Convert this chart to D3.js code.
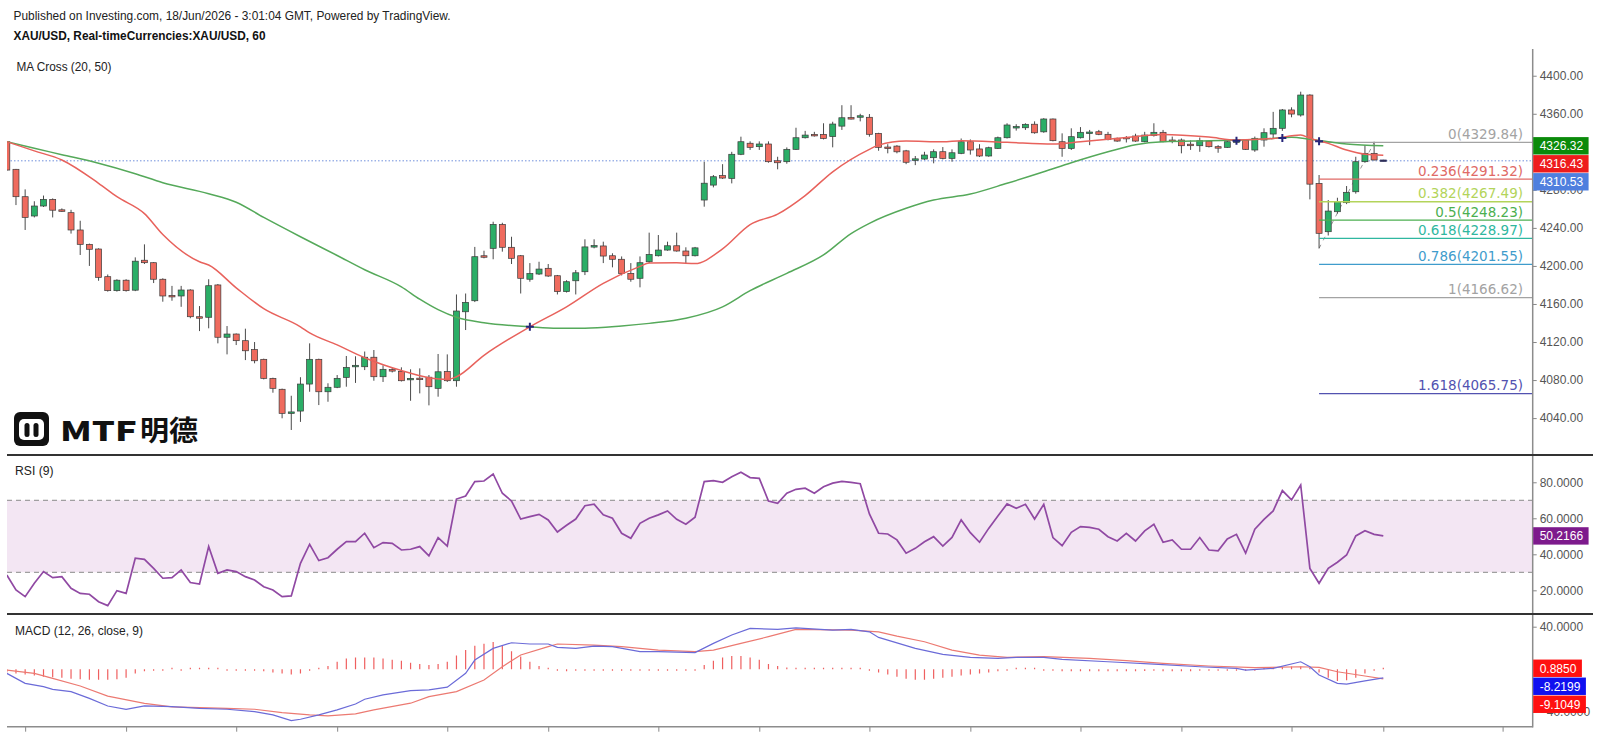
<!DOCTYPE html>
<html lang="en">
<head>
<meta charset="UTF-8">
<title>XAU/USD, 60</title>
<script src="https://d3js.org/d3.v7.min.js"></script>
<style>
  body { margin: 0; background: #fff; }
  svg { display: block; font-family: "Liberation Sans", Arial, sans-serif; }
  .axis text { font-size: 12px; fill: #555; font-family: "Liberation Sans", Arial, sans-serif; }
  .axis line { stroke: #888; }
  .axis path { display: none; }
</style>
</head>
<body>
<svg width="1600" height="734"></svg>
<script>
// candles, hourly
const open = [4330.6,4301.6,4272.8,4252.5,4263,4270,4259,4256,4237.8,4222.7,
  4217.8,4188.7,4174,4185,4174.5,4206,4203.4,4186,4169,4168.4,
  4174.7,4146.6,4146,4180,4125,4128.4,4121.4,4112,4101.8,4081.8,
  4070.3,4046,4047.4,4075.8,4101.8,4067.7,4072.4,4082.8,4095,4094,
  4104,4083.5,4091,4089,4081.8,4082,4083,4071.3,4089,4079.3,
  4151.8,4163.4,4210.7,4218.5,4243.7,4219.6,4210.7,4186,4191.5,4197.5,
  4189.7,4173,4184.4,4193.9,4221,4221,4210.7,4207,4192.2,4187,
  4204.4,4210.7,4216.7,4221.2,4215.7,4210.7,4269.3,4285,4295,4292,
  4317.4,4329,4325.4,4328.2,4310.6,4309.6,4322.6,4334.8,4338.3,4338.3,
  4336,4347,4356,4357.6,4356.3,4339.4,4325,4326,4321,4312.4,
  4312.4,4313.8,4320.1,4313.1,4318.4,4330.6,4323,4315.6,4323.6,4334.8,
  4346.4,4345.3,4349,4341,4354.5,4330.6,4323.6,4334.8,4340.5,4341.1,
  4338.4,4334.2,4335.2,4336.6,4330.6,4337,4340.5,4332.4,4332.4,4328,
  4326.4,4331.3,4325.4,4324.7,4331,4332.4,4321.9,4332.4,4338.7,4344.7,
  4364,4358.7,4379.7,4286.8,4236,4257,4266.5,4278,4309.6,4318.4,
  4311.4];
const high = [4331,4302,4280.5,4268,4274,4271,4260.5,4259,4247.5,4223.5,
  4218.5,4191,4186,4186,4209,4222.7,4204,4187,4179,4179,
  4175.5,4157.8,4186,4181,4136.8,4129,4134,4120,4102.5,4082.5,
  4071,4063.5,4083,4118.6,4102.5,4076.6,4085.3,4105.3,4105,4110,
  4111.6,4095.5,4093,4093.4,4091.3,4092.3,4085.3,4107.4,4107,4170,
  4171,4220,4216,4246.5,4245.4,4230.7,4211.5,4203,4204.4,4202,
  4190.5,4185,4195.7,4228,4228,4225.5,4213.3,4210,4203,4210,
  4235,4232.5,4225.5,4235,4219.6,4220,4309.6,4295.6,4307,4320,
  4335.9,4331,4331,4331,4314.8,4324.6,4345.3,4342,4341,4350,
  4351.6,4369,4369,4360,4359.7,4340,4328,4327,4322,4315.6,
  4320,4322.6,4325,4322.6,4334,4333,4328,4325.4,4336,4350,
  4349,4350,4352,4355.4,4355,4339.4,4344.7,4346,4343,4343,
  4341,4335,4336.6,4339,4341,4350,4343,4336,4334,4332,
  4335,4332,4327,4331.3,4333,4333,4336,4344.7,4362,4365,
  4366.8,4383.2,4380.5,4295.6,4269.3,4271.7,4284,4314.8,4327.1,4330.6,
  4311.6];
const low = [4300,4264,4237.8,4251,4262,4251,4257,4234,4211.5,4200,
  4184.4,4173,4173,4173,4173.5,4202,4182,4162.4,4163.4,4157,
  4145,4131.5,4134.4,4118.6,4107,4116.8,4101,4097.6,4080.7,4066.7,
  4039.8,4027.5,4036,4067.7,4053.7,4057.2,4071.5,4073,4077,4090.5,
  4079.3,4078,4088,4078.5,4058.2,4066,4053.4,4062.5,4078,4073,
  4132.6,4162,4208,4207,4215,4202,4171,4183.4,4190.5,4188.5,
  4170,4172,4170,4190.4,4218.5,4203,4198.5,4190,4183.4,4177.5,
  4203,4210,4216,4215,4202,4210,4262.3,4282.6,4291.5,4286.8,
  4316.5,4322,4322,4308.5,4301.6,4307.5,4322,4334,4336,4333,
  4324.7,4343,4354,4352,4335.9,4321.1,4318.4,4318.4,4307,4306,
  4311.5,4307.9,4312,4309.6,4317.5,4317,4314.5,4314.8,4323,4334,
  4342.3,4343,4339,4340,4331,4314.8,4321.9,4334,4327,4337.5,
  4332,4330.5,4329.8,4330.5,4330,4336,4330,4329,4318.4,4322,
  4320,4324.5,4319,4324,4329,4322,4320,4325.4,4334.2,4342,
  4356.3,4357,4270,4218.5,4232,4255,4265,4276,4308.5,4311,
  4310.3];
const close = [4300.8,4272.8,4251,4263,4270,4258.6,4258,4237.8,4222.7,4217.5,
  4188,4174,4185,4174,4205,4203.4,4186,4168.4,4168.4,4174.7,
  4146.6,4146,4179.2,4125,4128.4,4121.4,4110.8,4100.3,4081.8,4071.3,
  4045,4046.5,4075.8,4101.8,4067.7,4072.4,4081.8,4093.3,4095.5,4104,
  4083.5,4091.3,4090,4079.3,4081.8,4081.5,4073,4088.7,4079.3,4152.6,
  4161.7,4209.7,4210.2,4243.7,4219.6,4208,4187,4192,4196.7,4189.4,
  4173,4183.4,4192.8,4220,4221.4,4210.4,4207,4192.2,4186,4203.4,
  4212,4216.7,4221.2,4215.7,4210.7,4219,4287,4293.8,4292.4,4317.4,
  4330.6,4324.7,4328.2,4309.6,4308.5,4322.6,4334.8,4337.6,4338,4334,
  4349.2,4355.8,4355.5,4357.9,4338.4,4324.7,4324.5,4320,4309,4312.6,
  4316.6,4320.1,4313.1,4319,4330.6,4321.9,4315.6,4324.3,4334.8,4348.2,
  4346.6,4348.9,4340,4354.5,4331.7,4323.6,4335.9,4340.5,4340.8,4338.4,
  4333,4331.3,4335,4331.3,4337.6,4340.5,4330.6,4332.2,4326.4,4327.8,
  4331.7,4325.4,4325.2,4330.6,4331.5,4322.6,4334.2,4340.1,4344.7,4364,
  4359.7,4379.7,4286,4234.3,4257.7,4267.5,4277.4,4309.6,4318.4,4311.4,
  4310.53];

// moving averages [bar index, value]
const ma20 = [[0,4330.6],[3,4321],[6,4311.4],[10,4286.9],[12,4272.8],[15,4255],[17,4233],[21,4204.4],[22,4201],
  [25,4177],[28,4155],[32,4136],[33,4129.5],[36,4117],[39,4103.5],[43,4090],[46,4082.5],[48,4080.7],[49,4083.5],
  [52,4106],[57,4136],[61,4157],[65,4181.7],[69,4199.5],[70,4203],[73,4203.4],[75,4202.5],[78,4218],[81,4243.5],
  [84,4254.5],[87,4274],[90,4299],[94,4322.6],[95,4327],[98,4331.3],[102,4330.6],[104,4331.7],[109,4330],
  [114,4328.2],[117,4330.6],[122,4335],[126,4338.3],[131,4335.5],[134,4332.4],[138,4334],[141,4337.6],
  [142,4334.2],[144,4328.9],[146,4321.9],[148,4317.5],[150,4316.43]];
const ma50 = [[0,4330.6],[3,4323.7],[6,4317],[10,4308],[14,4297],[17,4287.5],[22,4276],[25,4267],[28,4251],
  [32,4230.7],[36,4211],[39,4196],[43,4178],[45,4165],[47,4154],[49,4146],[52,4140.3],[57,4136],[60,4134.4],
  [63,4134.4],[67,4136.8],[70,4139.6],[74,4145],[78,4157],[81,4174],[85,4192.2],[89,4211.5],[92,4234],
  [94,4244.8],[98,4260.6],[101,4269.3],[105,4275.6],[109,4286.9],[113,4299],[116,4308.5],[120,4320],
  [123,4327.5],[126,4330.6],[131,4331.7],[134,4332.4],[137,4333.4],[140,4335.2],[142,4333.1],[144,4330.6],
  [146,4328.2],[150,4326.32]];
const maCrosses = [[57,4136],[134,4331.7],[139,4334.4],[143,4331]];
const lastPrice = 4310.53;

// fibonacci retracement
const fibRatios = [0, 0.236, 0.382, 0.5, 0.618, 0.786, 1, 1.618];
const fibValues = [4329.84, 4291.32, 4267.49, 4248.23, 4228.97, 4201.55, 4166.62, 4065.75];
const fibStart = 143;
const fibTrend = [[143,4218.5],[149,4329.84]];

// RSI (9), one value per bar
const rsi = [28.5,20.2,16.5,23.9,30.4,27,27.6,21.1,18.3,17.8,
  13.7,11.5,19.8,18.3,37.8,37.2,32.2,26.7,27,31.3,
  24.3,23.5,44.3,29.4,31.3,30.4,27.6,25.7,22,20.2,
  16.5,16.9,35,45.6,36.5,38.1,42.8,47,47,51.7,
  43.7,46.5,46.1,42.4,42.8,44.3,39.1,49.3,44.6,70.7,
  72.4,80.4,80.7,84.6,73.9,69.6,59.6,60.9,62.2,59.1,
  52.4,56.1,59.6,67,67.8,61.9,60,51.7,48.9,57.2,
  60,61.9,64.1,59.4,56.7,60.6,80.4,80.9,80,83.1,
  85.6,82.6,82.2,69.6,68.3,73.9,76.1,76.7,73.9,77.5,
  79.5,80.5,80,79.2,62.4,51.7,51.3,48,40.6,43.3,
  47,49.8,44.6,49.4,59.1,52,46.7,54.4,61.3,68,
  65.6,67.8,59.6,67.8,49.3,44.8,52.2,55.4,55,53.9,
  49.8,47.4,51.7,47.4,53,56.7,46.7,48,42.8,42.8,
  49.3,42.4,41.9,48.5,51.1,40.6,53.9,59.4,64.1,75.4,
  70.2,78.5,32.2,23.9,32.2,35.6,39.6,50.2,53.1,51.1,
  50.2166];

// MACD (12, 26, close, 9)
const macdLine = [[0,-3.9],[2,-13.3],[4,-16.4],[5,-18.9],[7,-21.1],[9,-27.4],[11,-34.6],[13,-37.7],[15,-34.6],
  [18,-35.2],[21,-36.8],[24,-37.7],[27,-39.9],[29,-43],[31,-48.4],[32,-47.1],[34,-43],[36,-38.3],[38,-32.7],
  [39,-28.3],[41,-24.2],[44,-20.1],[46,-19.4],[48,-16.9],[50,-3.9],[51,8.6],[53,19.6],[55,24.9],[57,23.7],
  [59,23.7],[60,20.5],[62,19.6],[64,21.8],[66,21.2],[69,16.5],[71,16.5],[75,15.6],[77,24.3],[79,32.2],
  [81,38.4],[84,37.5],[86,38.8],[90,36.8],[92,37.5],[94,35.2],[95,29.9],[99,19.6],[102,13.9],[105,11.1],
  [108,10.2],[110,11.1],[113,11.1],[115,9.2],[120,7],[125,4.8],[130,2.3],[134,0.8],[135,-0.8],[138,0.8],
  [141,7],[142,2.3],[143,-5.5],[145,-13.3],[146,-14],[148,-10.9],[150,-8.2199]];
const signalLine = [[0,-0.8],[3,-3.9],[5,-8.6],[8,-15.8],[11,-25.3],[15,-32.2],[18,-35.4],[21,-36.2],[24,-36.8],
  [27,-37.7],[30,-40.8],[33,-43],[35,-44],[38,-42.1],[40,-38.3],[44,-32],[46,-25.8],[49,-21.1],[52,-10.1],
  [54,2.4],[56,13.4],[59,21.2],[60,23.7],[64,22.7],[67,21.2],[71,18],[75,16.5],[77,18],[80,24.3],[83,30.6],
  [86,37.5],[92,36.8],[95,35.2],[97,31.1],[100,25.8],[103,18],[106,13.3],[109,11.1],[113,11.8],[118,10.2],
  [122,8],[126,5.5],[131,3],[136,1.4],[141,2.3],[143,1.7],[145,-2.4],[148,-6.4],[150,-9.1049]];
const histogram = [-3,-4,-5,-6,-7,-7.5,-8,-9,-9.5,-10,
  -10,-10,-9.5,-8,-4,-2,-1,-0.5,0.3,0,
  0.2,0.3,0.5,0.2,-0.3,-0.5,-1,-1.5,-2,-3,
  -4,-5,-4,-1,1,3,7,10,11,11,
  11,10,9,8,6,5,4,5,7,13,
  18,22,24,25.5,22,17,12,7,3,1,
  -1.5,-2,-1.5,-1.5,-0.5,0,-0.5,-1,-1.5,-1.5,
  -1.5,-1,-1,-1,-0.5,-0.5,4,8,11,12.5,
  12.5,11,9,5,3,1.5,0.8,0.5,0.3,0.5,
  0.5,0.5,0.4,0.3,0,-3,-5,-7,-9,-10,
  -10,-9,-8,-7,-6,-5,-4,-3,-2,-1,
  0.3,0.4,0.3,-0.3,-1.5,-2,-2,-2,-2,-2,
  -2,-2,-2,-2,-1.8,-1.5,-2,-2,-2,-2,
  -1.5,-1.5,-1.5,-1.2,-1,-1.5,-0.5,0.5,1.5,2,
  2.5,2.5,0.5,-3,-8,-11,-10.5,-8,-4,-1.5,
  0.885];

// axis ticks (4320 sits under the value boxes)
const priceTicks = [4040, 4080, 4120, 4160, 4200, 4240, 4280, 4360, 4400];
const rsiTicks = [20, 40, 60, 80];
const macdTicks = [-40, 40];
const timeTicks = [2, 13, 25, 36, 48, 59, 71, 82, 94, 105, 117, 128, 140, 150, 163];

// styles
const upColor = "#2bae67", downColor = "#ef6b5e", liveColor = "#2f2f5a";
const fibColors = ["#a3a3a3", "#e06a66", "#b3d45a", "#4caf50", "#2fb7a0", "#3f9ccc", "#a3a3a3", "#5252b0"];

const svg = d3.select("svg");
const plotL = 7, plotR = 1532.7;

const x = d3.scaleLinear().domain([0, 150]).range([6.8, 1383.3]);
const yPrice = d3.scaleLinear().domain([4001.2, 4428.1]).range([455, 49]);
const yRsi = d3.scaleLinear().domain([7.4, 94.6]).range([613, 456]);
const yMacd = d3.scaleLinear().domain([-54.1, 51]).range([726.7, 615]);

const defs = svg.append("defs");
[["clipMain", 49, 455], ["clipRsi", 456, 613], ["clipMacd", 615, 726.7]].forEach(([id, t, b]) => {
  defs.append("clipPath").attr("id", id)
    .append("rect").attr("x", plotL).attr("y", t).attr("width", plotR - plotL).attr("height", b - t);
});

// header
svg.append("text").attr("x", 13.5).attr("y", 19.5).attr("font-size", 12).attr("fill", "#222")
  .attr("textLength", 437).attr("lengthAdjust", "spacingAndGlyphs")
  .text("Published on Investing.com, 18/Jun/2026 - 3:01:04 GMT, Powered by TradingView.");
svg.append("text").attr("x", 13.5).attr("y", 39.5).attr("font-size", 12).attr("font-weight", "bold").attr("fill", "#111")
  .attr("textLength", 252).attr("lengthAdjust", "spacingAndGlyphs")
  .text("XAU/USD, Real-timeCurrencies:XAU/USD, 60");
svg.append("text").attr("x", 16.5).attr("y", 70.5).attr("font-size", 12.5).attr("fill", "#222")
  .attr("textLength", 95).attr("lengthAdjust", "spacingAndGlyphs")
  .text("MA Cross (20, 50)");

// ---- main panel
const main = svg.append("g").attr("clip-path", "url(#clipMain)");

main.append("line")
  .attr("x1", plotL).attr("x2", plotR)
  .attr("y1", yPrice(lastPrice)).attr("y2", yPrice(lastPrice))
  .attr("stroke", "#6f8fdc").attr("stroke-width", 1).attr("stroke-dasharray", "1.5,2");

main.append("path")
  .attr("d", d3.line().x(d => x(d[0])).y(d => yPrice(d[1]))(fibTrend))
  .attr("fill", "none").attr("stroke", "#999").attr("stroke-width", 1).attr("stroke-dasharray", "4,5");

const bars = d3.range(open.length);
const lastBar = open.length - 1;
const candle = main.append("g").selectAll("g").data(bars).join("g");
candle.append("line")
  .attr("x1", i => x(i)).attr("x2", i => x(i))
  .attr("y1", i => yPrice(Math.max(high[i], open[i], close[i])))
  .attr("y2", i => yPrice(Math.min(low[i], open[i], close[i])))
  .attr("stroke", "#4a4a4a").attr("stroke-width", 1);
candle.append("rect")
  .attr("x", i => x(i) - 3).attr("width", 6)
  .attr("y", i => yPrice(Math.max(open[i], close[i])))
  .attr("height", i => Math.max(1.5, Math.abs(yPrice(open[i]) - yPrice(close[i]))))
  .attr("fill", i => i === lastBar ? liveColor : close[i] >= open[i] ? upColor : downColor)
  .attr("stroke", i => i === lastBar ? liveColor : "#3a3a3a").attr("stroke-width", 0.7);

// fib levels
fibRatios.forEach((r, k) => {
  const yy = yPrice(fibValues[k]);
  main.append("line").attr("x1", x(fibStart)).attr("x2", plotR).attr("y1", yy).attr("y2", yy)
    .attr("stroke", fibColors[k]).attr("stroke-width", 1.3);
  main.append("text").attr("x", 1523).attr("y", yy - 3.5).attr("text-anchor", "end")
    .attr("font-family", "DejaVu Sans, sans-serif").attr("font-size", 13.5)
    .attr("fill", fibColors[k])
    .text(`${r}(${fibValues[k].toFixed(2)})`);
});

const maLine = d3.line().x(d => x(d[0])).y(d => yPrice(d[1])).curve(d3.curveMonotoneX);
main.append("path").attr("d", maLine(ma50)).attr("fill", "none").attr("stroke", "#55a95a").attr("stroke-width", 1.5);
main.append("path").attr("d", maLine(ma20)).attr("fill", "none").attr("stroke", "#e8625c").attr("stroke-width", 1.5);

main.append("g").selectAll("path").data(maCrosses).join("path")
  .attr("d", d => `M${x(d[0]) - 4},${yPrice(d[1])}h8M${x(d[0])},${yPrice(d[1]) - 4}v8`)
  .attr("stroke", "#26267a").attr("stroke-width", 2);

// logo
const logo = svg.append("g");
logo.append("rect").attr("x", 14).attr("y", 412).attr("width", 35).attr("height", 34).attr("rx", 6).attr("fill", "#111");
logo.append("rect").attr("x", 19).attr("y", 419).attr("width", 25).attr("height", 21).attr("rx", 5).attr("fill", "#fff");
[24.5, 33.5].forEach(bx => logo.append("rect").attr("x", bx).attr("y", 423).attr("width", 5).attr("height", 14)
  .attr("rx", 2.5).attr("fill", "#111"));
logo.append("text").attr("x", 60).attr("y", 441).attr("font-family", "Noto Sans CJK SC, sans-serif")
  .attr("font-weight", 900).attr("font-size", 27).attr("fill", "#111")
  .attr("textLength", 77).attr("lengthAdjust", "spacingAndGlyphs").text("MTF");
logo.append("text").attr("x", 140).attr("y", 441).attr("font-family", "Noto Sans CJK SC, sans-serif")
  .attr("font-weight", "bold").attr("font-size", 28).attr("fill", "#111")
  .attr("textLength", 58).attr("lengthAdjust", "spacingAndGlyphs").text("明德");

// ---- RSI panel
svg.append("text").attr("x", 15).attr("y", 474.5).attr("font-size", 12).attr("fill", "#222")
  .attr("textLength", 38.5).attr("lengthAdjust", "spacingAndGlyphs").text("RSI (9)");
const rsiG = svg.append("g").attr("clip-path", "url(#clipRsi)");
rsiG.append("rect").attr("x", plotL).attr("width", plotR - plotL)
  .attr("y", yRsi(70)).attr("height", yRsi(30) - yRsi(70)).attr("fill", "#f3e6f3");
[70, 30].forEach(v => rsiG.append("line").attr("x1", plotL).attr("x2", plotR)
  .attr("y1", yRsi(v)).attr("y2", yRsi(v))
  .attr("stroke", "#8a8a8a").attr("stroke-width", 1).attr("stroke-dasharray", "5,4"));
rsiG.append("path")
  .attr("d", d3.line().x((d, i) => x(i)).y(d => yRsi(d))(rsi))
  .attr("fill", "none").attr("stroke", "#9049a3").attr("stroke-width", 1.7);

// ---- MACD panel
svg.append("text").attr("x", 15).attr("y", 634.5).attr("font-size", 12).attr("fill", "#222")
  .attr("textLength", 128).attr("lengthAdjust", "spacingAndGlyphs").text("MACD (12, 26, close, 9)");
const macdG = svg.append("g").attr("clip-path", "url(#clipMacd)");
macdG.append("g").selectAll("line").data(histogram).join("line")
  .attr("x1", (d, i) => x(i)).attr("x2", (d, i) => x(i))
  .attr("y1", yMacd(0))
  .attr("y2", d => {
    const dy = yMacd(d) - yMacd(0);
    return yMacd(0) + (Math.abs(dy) < 1.5 ? (dy < 0 ? -1.5 : 1.5) : dy);
  })
  .attr("stroke", "#ef5f5f").attr("stroke-width", 1.2);
const macdPath = d3.line().x(d => x(d[0])).y(d => yMacd(d[1]));
macdG.append("path").attr("d", macdPath(signalLine)).attr("fill", "none").attr("stroke", "#ec7a72").attr("stroke-width", 1.2);
macdG.append("path").attr("d", macdPath(macdLine)).attr("fill", "none").attr("stroke", "#6b6bd8").attr("stroke-width", 1.2);

// ---- axes
svg.append("g").attr("class", "axis").attr("transform", `translate(${plotR},0)`)
  .call(d3.axisRight(yPrice).tickValues(priceTicks).tickFormat(d3.format(".2f")).tickSize(4).tickPadding(3));
svg.append("g").attr("class", "axis").attr("transform", `translate(${plotR},0)`)
  .call(d3.axisRight(yRsi).tickValues(rsiTicks).tickFormat(d3.format(".4f")).tickSize(4).tickPadding(3));
svg.append("g").attr("class", "axis").attr("transform", `translate(${plotR},0)`)
  .call(d3.axisRight(yMacd).tickValues(macdTicks).tickFormat(d3.format(".4f")).tickSize(4).tickPadding(3));
svg.append("g").attr("class", "axis").attr("transform", "translate(0,726.7)")
  .call(d3.axisBottom(x).tickValues(timeTicks).tickFormat("").tickSize(5));

svg.append("line").attr("x1", plotR).attr("x2", plotR).attr("y1", 49).attr("y2", 727.5)
  .attr("stroke", "#8c8c8c").attr("stroke-width", 1.5);
svg.append("line").attr("x1", plotL).attr("x2", plotR).attr("y1", 726.7).attr("y2", 726.7)
  .attr("stroke", "#8c8c8c").attr("stroke-width", 1.5);
[455, 614].forEach(yy => svg.append("line").attr("x1", plotL).attr("x2", 1593)
  .attr("y1", yy).attr("y2", yy).attr("stroke", "#333").attr("stroke-width", 2));

// value boxes on the right scale
function valueBoxes(items, scale) {
  let prev = -Infinity;
  items.map(d => ({...d, y: scale(d.value)}))
    .sort((a, b) => a.y - b.y)
    .forEach(d => {
      const cy = Math.max(d.y, prev + 18);
      prev = cy;
      const g = svg.append("g");
      const t = g.append("text").attr("x", plotR + 7).attr("y", cy + 4.3)
        .attr("font-size", 12).attr("fill", "#fff").text(d.label);
      const w = t.node().getComputedTextLength();
      g.insert("rect", "text").attr("x", plotR + 0.5).attr("y", cy - 8.7)
        .attr("width", w + 12).attr("height", 17.4).attr("fill", d.color);
    });
}
valueBoxes([
  {value: 4326.32, label: "4326.32", color: "#0a8a0a"},
  {value: 4316.43, label: "4316.43", color: "#ee1c1c"},
  {value: lastPrice, label: "4310.53", color: "#4f7fde"}
], yPrice);
valueBoxes([{value: rsi[rsi.length - 1], label: "50.2166", color: "#7d1a8c"}], yRsi);
valueBoxes([
  {value: histogram[histogram.length - 1], label: "0.8850", color: "#ff1010"},
  {value: macdLine[macdLine.length - 1][1], label: "-8.2199", color: "#1010f0"},
  {value: signalLine[signalLine.length - 1][1], label: "-9.1049", color: "#ff1010"}
], yMacd);
</script>
</body>
</html>
